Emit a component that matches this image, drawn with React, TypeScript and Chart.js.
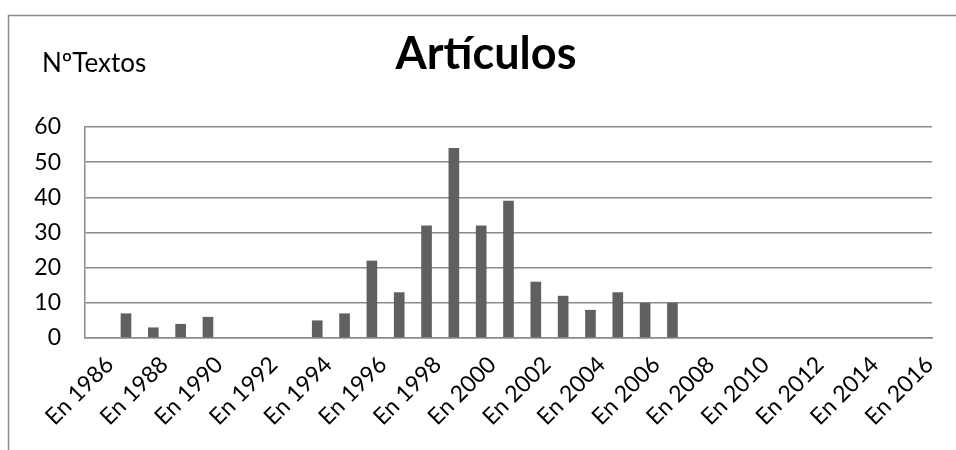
import React, { useEffect, useRef } from "react";
import { Chart, registerables } from "chart.js";

Chart.register(...registerables);

const years: string[] = [
  "En 1986", "En 1987", "En 1988", "En 1989", "En 1990", "En 1991", "En 1992", "En 1993",
  "En 1994", "En 1995", "En 1996", "En 1997", "En 1998", "En 1999", "En 2000", "En 2001",
  "En 2002", "En 2003", "En 2004", "En 2005", "En 2006", "En 2007", "En 2008", "En 2009",
  "En 2010", "En 2011", "En 2012", "En 2013", "En 2014", "En 2015", "En 2016",
];
const textos: number[] = [
  0, 7, 3, 4, 6, 0, 0, 0,
  5, 7, 22, 13, 32, 54, 32, 39,
  16, 12, 8, 13, 10, 10, 0, 0,
  0, 0, 0, 0, 0, 0, 0,
];
const yTicks: number[] = [0, 10, 20, 30, 40, 50, 60];
const chartTitle = "Artículos";
const yAxisTitle = "NºTextos";

const FONT = "Lato, 'Open Sans', sans-serif";

const decorPlugin = {
  id: "decor",
  beforeDraw(chart: any) {
    const ctx = chart.ctx;
    ctx.save();
    ctx.fillStyle = "#ffffff";
    ctx.fillRect(0, 0, chart.width, chart.height);
    ctx.strokeStyle = "#8a8a8a";
    ctx.lineWidth = 1.5;
    ctx.beginPath();
    ctx.moveTo(8.5, chart.height);
    ctx.lineTo(8.5, 15.5);
    ctx.lineTo(chart.width, 15.5);
    ctx.stroke();
    ctx.restore();
  },
  afterDraw(chart: any) {
    const ctx = chart.ctx;
    ctx.save();
    ctx.fillStyle = "#000000";
    ctx.textBaseline = "alphabetic";
    ctx.textAlign = "center";
    ctx.font = `bold 45px ${FONT}`;
    ctx.fillText(chartTitle, 486, 69);
    ctx.textAlign = "left";
    ctx.font = `26px ${FONT}`;
    ctx.fillText(yAxisTitle, 42, 72);
    ctx.restore();
  },
};

export default function App() {
  const ref = useRef<HTMLCanvasElement | null>(null);
  useEffect(() => {
    if (!ref.current) return;
    const chart = new Chart(ref.current, {
      type: "bar",
      data: {
        labels: years,
        datasets: [
          {
            label: yAxisTitle,
            data: textos,
            backgroundColor: "#606060",
            borderWidth: 0,
            barPercentage: 0.39,
            categoryPercentage: 1,
          },
        ],
      },
      options: {
        animation: false,
        responsive: false,
        layout: { padding: { left: 0, right: 24, top: 127, bottom: 0 } },
        plugins: {
          legend: { display: false },
          title: { display: false },
          tooltip: { enabled: false },
        },
        scales: {
          x: {
            grid: { display: false, drawTicks: false },
            border: { display: true, color: "#8a8a8a", width: 1.5 },
            ticks: {
              autoSkip: false,
              maxRotation: 45,
              minRotation: 45,
              padding: 13,
              labelOffset: 11,
              color: "#000000",
              font: { family: FONT, size: 23 },
              callback: (_v: any, i: number) => (i % 2 === 0 ? years[i] : ""),
            },
            afterFit: (s: any) => {
              s.height = 112;
            },
          },
          y: {
            min: 0,
            max: 60,
            afterBuildTicks: (s: any) => {
              s.ticks = yTicks.map((v) => ({ value: v }));
            },
            grid: { color: "#8a8a8a", lineWidth: 1.5, drawTicks: false },
            border: { display: true, color: "#8a8a8a", width: 1.5 },
            ticks: {
              padding: 24,
              color: "#000000",
              font: { family: FONT, size: 23 },
            },
            afterFit: (s: any) => {
              s.width = 85;
            },
          },
        },
      },
      plugins: [decorPlugin],
    });
    return () => chart.destroy();
  }, []);
  return (
    <div style={{ position: "absolute", left: 0, top: 0, width: 956, height: 450 }}>
      <canvas ref={ref} width={956} height={450} />
    </div>
  );
}
